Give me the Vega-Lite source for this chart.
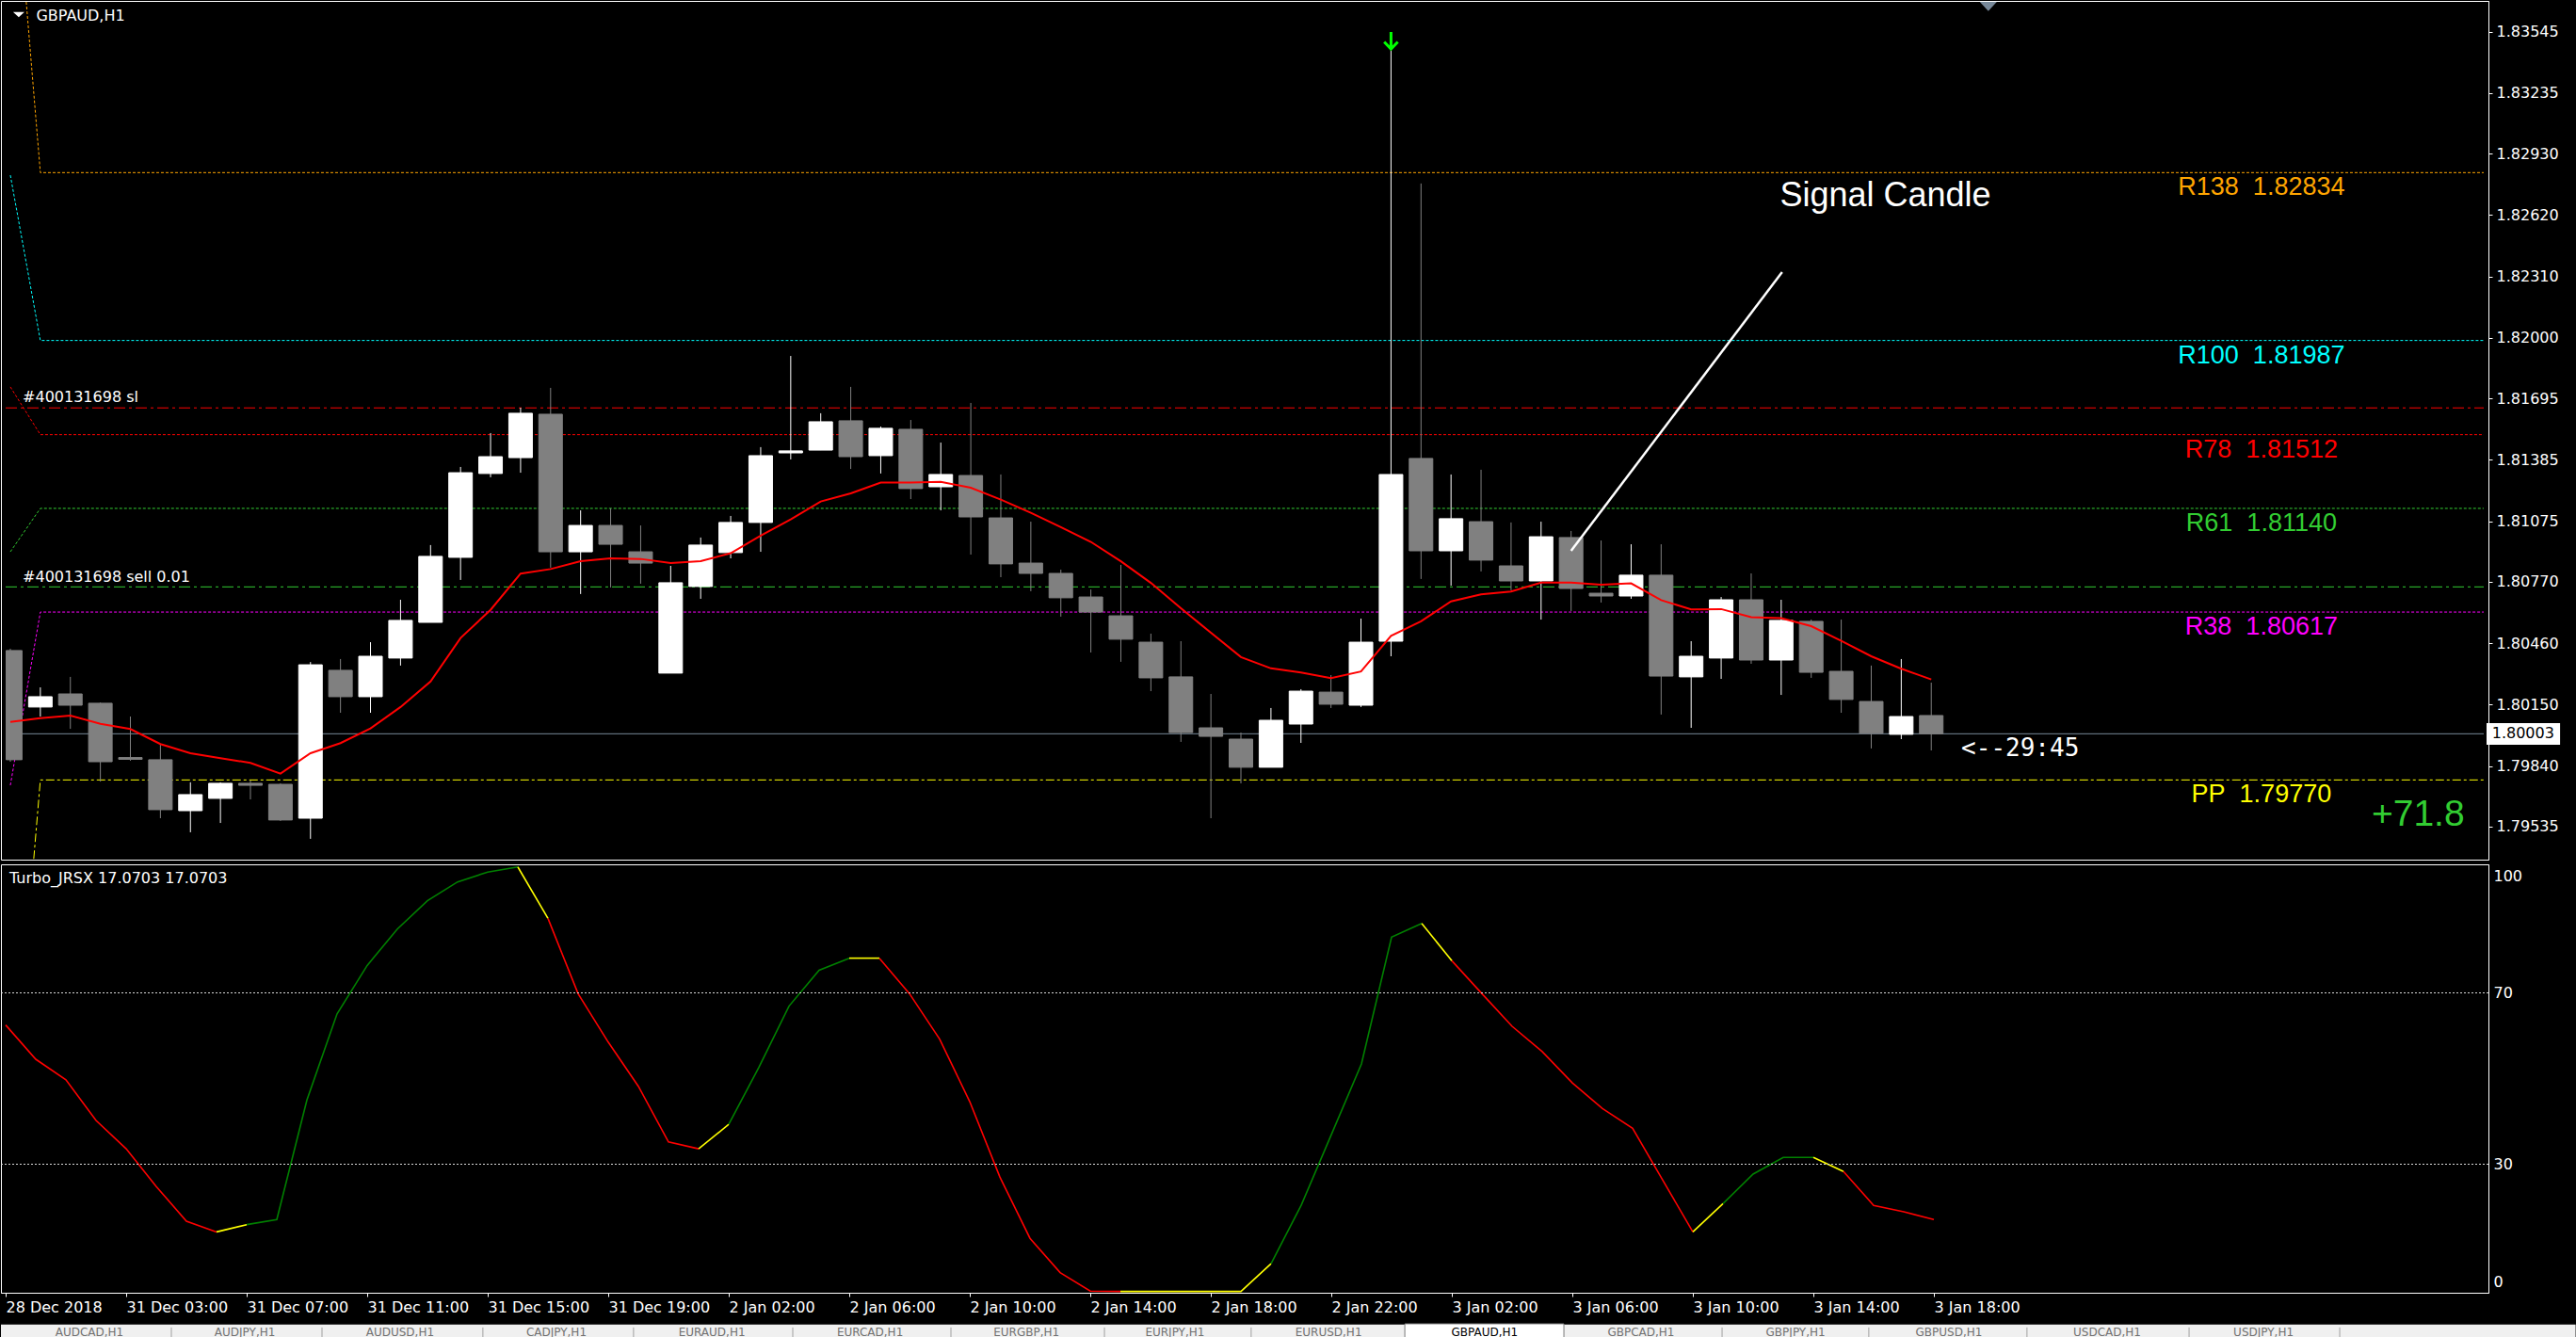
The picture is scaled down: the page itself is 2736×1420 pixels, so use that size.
{
  "$schema": "https://vega.github.io/schema/vega-lite/v6.json",
  "background": "black",
  "padding": 0,
  "spacing": 3,
  "config": {
    "view": {"stroke": "white", "strokeWidth": 1},
    "axis": {"grid": false, "labelColor": "white", "domainColor": "white", "tickColor": "white", "labelFont": "DejaVu Sans", "labelFontSize": 16}
  },
  "datasets": {
    "candles": [
      {"i":0,"o":1.80423,"h":1.80432,"l":1.79862,"c":1.79872,"d":"dn"},
      {"i":1,"o":1.80138,"h":1.80237,"l":1.8009,"c":1.8019,"d":"up"},
      {"i":2,"o":1.80204,"h":1.8029,"l":1.80028,"c":1.80147,"d":"dn"},
      {"i":3,"o":1.80157,"h":1.80161,"l":1.79762,"c":1.79862,"d":"dn"},
      {"i":4,"o":1.79883,"h":1.8009,"l":1.79867,"c":1.79874,"d":"dn"},
      {"i":5,"o":1.79872,"h":1.79948,"l":1.79577,"c":1.7962,"d":"dn"},
      {"i":6,"o":1.79615,"h":1.79758,"l":1.79506,"c":1.79696,"d":"up"},
      {"i":7,"o":1.79677,"h":1.79758,"l":1.79553,"c":1.79753,"d":"up"},
      {"i":8,"o":1.79753,"h":1.79767,"l":1.79672,"c":1.79743,"d":"dn"},
      {"i":9,"o":1.79748,"h":1.79753,"l":1.79563,"c":1.79568,"d":"dn"},
      {"i":10,"o":1.79577,"h":1.80365,"l":1.79473,"c":1.80351,"d":"up"},
      {"i":11,"o":1.80323,"h":1.8038,"l":1.80109,"c":1.8019,"d":"dn"},
      {"i":12,"o":1.8019,"h":1.80465,"l":1.80109,"c":1.80394,"d":"up"},
      {"i":13,"o":1.80385,"h":1.80679,"l":1.80347,"c":1.80575,"d":"up"},
      {"i":14,"o":1.80565,"h":1.80955,"l":1.80565,"c":1.80898,"d":"up"},
      {"i":15,"o":1.80893,"h":1.81349,"l":1.80779,"c":1.8132,"d":"up"},
      {"i":16,"o":1.81316,"h":1.8152,"l":1.81297,"c":1.81401,"d":"up"},
      {"i":17,"o":1.81396,"h":1.81648,"l":1.8132,"c":1.8162,"d":"up"},
      {"i":18,"o":1.81615,"h":1.81748,"l":1.80841,"c":1.80921,"d":"dn"},
      {"i":19,"o":1.80921,"h":1.8113,"l":1.80708,"c":1.81054,"d":"up"},
      {"i":20,"o":1.81054,"h":1.8114,"l":1.80741,"c":1.80959,"d":"dn"},
      {"i":21,"o":1.80921,"h":1.81054,"l":1.8076,"c":1.80864,"d":"dn"},
      {"i":22,"o":1.80309,"h":1.8085,"l":1.80309,"c":1.80765,"d":"up"},
      {"i":23,"o":1.80746,"h":1.80993,"l":1.80684,"c":1.80955,"d":"up"},
      {"i":24,"o":1.80917,"h":1.81102,"l":1.80888,"c":1.81069,"d":"up"},
      {"i":25,"o":1.81069,"h":1.81449,"l":1.80921,"c":1.81406,"d":"up"},
      {"i":26,"o":1.8142,"h":1.81909,"l":1.81387,"c":1.8143,"d":"up"},
      {"i":27,"o":1.81434,"h":1.8162,"l":1.81434,"c":1.81577,"d":"up"},
      {"i":28,"o":1.81582,"h":1.81753,"l":1.81339,"c":1.81401,"d":"dn"},
      {"i":29,"o":1.81406,"h":1.81553,"l":1.81316,"c":1.81544,"d":"up"},
      {"i":30,"o":1.81539,"h":1.81586,"l":1.81187,"c":1.8124,"d":"dn"},
      {"i":31,"o":1.81249,"h":1.81472,"l":1.8113,"c":1.81311,"d":"up"},
      {"i":32,"o":1.81306,"h":1.81672,"l":1.80907,"c":1.81097,"d":"dn"},
      {"i":33,"o":1.81092,"h":1.81311,"l":1.80793,"c":1.8086,"d":"dn"},
      {"i":34,"o":1.80864,"h":1.81073,"l":1.80722,"c":1.80812,"d":"dn"},
      {"i":35,"o":1.80812,"h":1.80831,"l":1.80594,"c":1.80689,"d":"dn"},
      {"i":36,"o":1.80693,"h":1.80731,"l":1.80413,"c":1.80617,"d":"dn"},
      {"i":37,"o":1.80598,"h":1.80855,"l":1.80366,"c":1.8048,"d":"dn"},
      {"i":38,"o":1.80465,"h":1.80508,"l":1.80218,"c":1.80285,"d":"dn"},
      {"i":39,"o":1.8029,"h":1.8047,"l":1.79962,"c":1.80009,"d":"dn"},
      {"i":40,"o":1.80033,"h":1.80204,"l":1.79577,"c":1.7999,"d":"dn"},
      {"i":41,"o":1.79976,"h":1.80009,"l":1.79753,"c":1.79834,"d":"dn"},
      {"i":42,"o":1.79834,"h":1.80133,"l":1.79834,"c":1.80071,"d":"up"},
      {"i":43,"o":1.80052,"h":1.80228,"l":1.79957,"c":1.80218,"d":"up"},
      {"i":44,"o":1.80213,"h":1.80299,"l":1.80133,"c":1.80152,"d":"dn"},
      {"i":45,"o":1.80147,"h":1.80584,"l":1.80138,"c":1.80465,"d":"up"},
      {"i":46,"o":1.8047,"h":1.83453,"l":1.80394,"c":1.81311,"d":"up"},
      {"i":47,"o":1.81392,"h":1.82779,"l":1.80784,"c":1.80926,"d":"dn"},
      {"i":48,"o":1.80926,"h":1.81311,"l":1.8075,"c":1.81088,"d":"up"},
      {"i":49,"o":1.81073,"h":1.81335,"l":1.80822,"c":1.80879,"d":"dn"},
      {"i":50,"o":1.8085,"h":1.81069,"l":1.80727,"c":1.80774,"d":"dn"},
      {"i":51,"o":1.80774,"h":1.81073,"l":1.80579,"c":1.80997,"d":"up"},
      {"i":52,"o":1.80993,"h":1.81026,"l":1.80622,"c":1.80736,"d":"dn"},
      {"i":53,"o":1.80712,"h":1.80978,"l":1.80665,"c":1.80698,"d":"dn"},
      {"i":54,"o":1.80698,"h":1.80959,"l":1.80684,"c":1.80803,"d":"up"},
      {"i":55,"o":1.80803,"h":1.80959,"l":1.801,"c":1.80294,"d":"dn"},
      {"i":56,"o":1.8029,"h":1.8047,"l":1.80033,"c":1.80394,"d":"up"},
      {"i":57,"o":1.80385,"h":1.80693,"l":1.8028,"c":1.80679,"d":"up"},
      {"i":58,"o":1.80679,"h":1.80812,"l":1.80356,"c":1.80375,"d":"dn"},
      {"i":59,"o":1.80375,"h":1.80679,"l":1.80199,"c":1.80575,"d":"up"},
      {"i":60,"o":1.8057,"h":1.80579,"l":1.80285,"c":1.80313,"d":"dn"},
      {"i":61,"o":1.80318,"h":1.80579,"l":1.80109,"c":1.80176,"d":"dn"},
      {"i":62,"o":1.80166,"h":1.80347,"l":1.79929,"c":1.80005,"d":"dn"},
      {"i":63,"o":1.8,"h":1.8038,"l":1.79976,"c":1.8009,"d":"up"},
      {"i":64,"o":1.80095,"h":1.80261,"l":1.79919,"c":1.80003,"d":"dn"}
    ],
    "ma": [
      {"i":0,"m":1.80063},{"i":1,"m":1.80082},{"i":2,"m":1.80095},{"i":3,"m":1.80053},{"i":4,"m":1.80027},
      {"i":5,"m":1.79951},{"i":6,"m":1.79905},{"i":7,"m":1.7988},{"i":8,"m":1.79856},{"i":9,"m":1.79802},
      {"i":10,"m":1.79905},{"i":11,"m":1.79956},{"i":12,"m":1.8003},{"i":13,"m":1.80138},{"i":14,"m":1.80267},
      {"i":15,"m":1.80486},{"i":16,"m":1.80628},{"i":17,"m":1.80811},{"i":18,"m":1.80834},{"i":19,"m":1.80874},
      {"i":20,"m":1.80888},{"i":21,"m":1.80885},{"i":22,"m":1.80864},{"i":23,"m":1.80874},{"i":24,"m":1.80914},
      {"i":25,"m":1.81003},{"i":26,"m":1.81085},{"i":27,"m":1.81175},{"i":28,"m":1.81216},{"i":29,"m":1.8127},
      {"i":30,"m":1.8127},{"i":31,"m":1.81274},{"i":32,"m":1.81244},{"i":33,"m":1.81184},{"i":34,"m":1.81118},
      {"i":35,"m":1.81045},{"i":36,"m":1.80971},{"i":37,"m":1.80873},{"i":38,"m":1.80764},{"i":39,"m":1.80636},
      {"i":40,"m":1.80513},{"i":41,"m":1.8039},{"i":42,"m":1.80333},{"i":43,"m":1.80312},{"i":44,"m":1.80284},
      {"i":45,"m":1.80317},{"i":46,"m":1.80497},{"i":47,"m":1.8057},{"i":48,"m":1.80671},{"i":49,"m":1.80706},
      {"i":50,"m":1.80721},{"i":51,"m":1.80766},{"i":52,"m":1.80766},{"i":53,"m":1.80755},{"i":54,"m":1.80762},
      {"i":55,"m":1.80677},{"i":56,"m":1.8063},{"i":57,"m":1.80632},{"i":58,"m":1.80591},{"i":59,"m":1.80586},
      {"i":60,"m":1.80546},{"i":61,"m":1.80472},{"i":62,"m":1.80394},{"i":63,"m":1.80331},{"i":64,"m":1.80277}
    ],
    "levels": [
      {"name":"R138","i":0.53,"p":1.83695},{"name":"R138","i":1,"p":1.82834},{"name":"R138","i":82.40625,"p":1.82834},
      {"name":"R100","i":0,"p":1.82821},{"name":"R100","i":1,"p":1.81987},{"name":"R100","i":82.40625,"p":1.81987},
      {"name":"R78","i":0,"p":1.81753},{"name":"R78","i":1,"p":1.81512},{"name":"R78","i":82.40625,"p":1.81512},
      {"name":"R61","i":0,"p":1.80921},{"name":"R61","i":1,"p":1.8114},{"name":"R61","i":82.40625,"p":1.8114},
      {"name":"R38","i":0,"p":1.79743},{"name":"R38","i":1,"p":1.80617},{"name":"R38","i":82.40625,"p":1.80617},
      {"name":"PP","i":0.78,"p":1.79372},{"name":"PP","i":1,"p":1.7977},{"name":"PP","i":82.40625,"p":1.7977},
      {"name":"sl","i":-0.15625,"p":1.81647},{"name":"sl","i":82.40625,"p":1.81647},
      {"name":"sell","i":-0.15625,"p":1.80744},{"name":"sell","i":82.40625,"p":1.80744},
      {"name":"bid","i":-0.15625,"p":1.80003},{"name":"bid","i":82.40625,"p":1.80003}
    ],
    "lvlabels": [
      {"name":"R138","t":"R138\u00a0 1.82834","p":1.82834},
      {"name":"R100","t":"R100\u00a0 1.81987","p":1.81987},
      {"name":"R78","t":"R78\u00a0 1.81512","p":1.81512},
      {"name":"R61","t":"R61\u00a0 1.81140","p":1.8114},
      {"name":"R38","t":"R38\u00a0 1.80617","p":1.80617},
      {"name":"PP","t":"PP\u00a0 1.79770","p":1.7977}
    ],
    "jrsx": [
      {"seg":1,"c":"r","i":0,"v":62.5},{"seg":1,"c":"r","i":1,"v":54.5},{"seg":1,"c":"r","i":2,"v":49.7},{"seg":1,"c":"r","i":3,"v":40.2},{"seg":1,"c":"r","i":4,"v":33.6},{"seg":1,"c":"r","i":5,"v":24.8},{"seg":1,"c":"r","i":6,"v":16.7},{"seg":1,"c":"r","i":7,"v":14.2},
      {"seg":2,"c":"y","i":7,"v":14.2},{"seg":2,"c":"y","i":8,"v":15.9},
      {"seg":3,"c":"g","i":8,"v":15.9},{"seg":3,"c":"g","i":9,"v":17.1},{"seg":3,"c":"g","i":10,"v":45},{"seg":3,"c":"g","i":11,"v":65.1},{"seg":3,"c":"g","i":12,"v":76.4},{"seg":3,"c":"g","i":13,"v":84.9},{"seg":3,"c":"g","i":14,"v":91.5},{"seg":3,"c":"g","i":15,"v":95.9},{"seg":3,"c":"g","i":16,"v":98.2},{"seg":3,"c":"g","i":17,"v":99.4},
      {"seg":4,"c":"y","i":17,"v":99.4},{"seg":4,"c":"y","i":18,"v":87.4},
      {"seg":5,"c":"r","i":18,"v":87.4},{"seg":5,"c":"r","i":19,"v":69.8},{"seg":5,"c":"r","i":20,"v":58.5},{"seg":5,"c":"r","i":21,"v":48.2},{"seg":5,"c":"r","i":22,"v":35.2},{"seg":5,"c":"r","i":23,"v":33.6},
      {"seg":6,"c":"y","i":23,"v":33.6},{"seg":6,"c":"y","i":24,"v":39.3},
      {"seg":7,"c":"g","i":24,"v":39.3},{"seg":7,"c":"g","i":25,"v":52.6},{"seg":7,"c":"g","i":26,"v":66.9},{"seg":7,"c":"g","i":27,"v":75.3},{"seg":7,"c":"g","i":28,"v":78.1},
      {"seg":8,"c":"y","i":28,"v":78.1},{"seg":8,"c":"y","i":29,"v":78.1},
      {"seg":9,"c":"r","i":29,"v":78.1},{"seg":9,"c":"r","i":30,"v":69.8},{"seg":9,"c":"r","i":31,"v":59.2},{"seg":9,"c":"r","i":32,"v":44.6},{"seg":9,"c":"r","i":33,"v":27.0},{"seg":9,"c":"r","i":34,"v":12.7},{"seg":9,"c":"r","i":35,"v":4.7},{"seg":9,"c":"r","i":36,"v":0.4},{"seg":9,"c":"r","i":37,"v":0.3},
      {"seg":10,"c":"y","i":37,"v":0.3},{"seg":10,"c":"y","i":38,"v":0.3},{"seg":10,"c":"y","i":39,"v":0.3},{"seg":10,"c":"y","i":40,"v":0.3},{"seg":10,"c":"y","i":41,"v":0.3},{"seg":10,"c":"y","i":42,"v":6.8},
      {"seg":11,"c":"g","i":42,"v":6.8},{"seg":11,"c":"g","i":43,"v":20.4},{"seg":11,"c":"g","i":44,"v":36.9},{"seg":11,"c":"g","i":45,"v":53.4},{"seg":11,"c":"g","i":46,"v":83.0},{"seg":11,"c":"g","i":47,"v":86.2},
      {"seg":12,"c":"y","i":47,"v":86.2},{"seg":12,"c":"y","i":48,"v":77.5},
      {"seg":13,"c":"r","i":48,"v":77.5},{"seg":13,"c":"r","i":49,"v":69.8},{"seg":13,"c":"r","i":50,"v":62.2},{"seg":13,"c":"r","i":51,"v":56.3},{"seg":13,"c":"r","i":52,"v":49.0},{"seg":13,"c":"r","i":53,"v":43.0},{"seg":13,"c":"r","i":54,"v":38.4},{"seg":13,"c":"r","i":55,"v":26.3},{"seg":13,"c":"r","i":56,"v":14.2},
      {"seg":14,"c":"y","i":56,"v":14.2},{"seg":14,"c":"y","i":57,"v":20.8},
      {"seg":15,"c":"g","i":57,"v":20.8},{"seg":15,"c":"g","i":58,"v":27.7},{"seg":15,"c":"g","i":59,"v":31.6},{"seg":15,"c":"g","i":60,"v":31.6},
      {"seg":16,"c":"y","i":60,"v":31.6},{"seg":16,"c":"y","i":61,"v":28.3},
      {"seg":17,"c":"r","i":61,"v":28.3},{"seg":17,"c":"r","i":62,"v":20.4},{"seg":17,"c":"r","i":63,"v":18.9},{"seg":17,"c":"r","i":64,"v":17.07}
    ],
    "tabs": [
      {"t":"AUDCAD,H1","i":2.78},{"t":"AUDJPY,H1","i":7.94},{"t":"AUDUSD,H1","i":13.09},{"t":"CADJPY,H1","i":18.28},
      {"t":"EURAUD,H1","i":23.44},{"t":"EURCAD,H1","i":28.69},{"t":"EURGBP,H1","i":33.88},{"t":"EURJPY,H1","i":38.81},
      {"t":"EURUSD,H1","i":43.91},{"t":"GBPCAD,H1","i":54.28},{"t":"GBPJPY,H1","i":59.41},
      {"t":"GBPUSD,H1","i":64.5},{"t":"USDCAD,H1","i":69.75},{"t":"USDJPY,H1","i":74.94}
    ],
    "seps": [
      {"i":5.5},{"i":10.5},{"i":15.84},{"i":20.84},{"i":26.125},{"i":31.375},{"i":36.47},{"i":41.34},
      {"i":56.97},{"i":61.84},{"i":67.09},{"i":72.47},{"i":77.47}
    ]
  },
  "vconcat": [
    {
      "width": 2642,
      "height": 912,
      "resolve": {"scale": {"color": "independent", "strokeDash": "independent", "stroke": "independent"}},
      "layer": [
        {
          "data": {"name": "levels"},
          "mark": {"type": "line", "strokeWidth": 1, "clip": true},
          "encoding": {
            "x": {"field": "i", "type": "quantitative", "scale": {"domain": [-0.15625, 82.40625], "nice": false, "zero": false}, "axis": null},
            "y": {"field": "p", "type": "quantitative", "scale": {"domain": [1.79368, 1.837], "nice": false, "zero": false},
                  "axis": {"orient": "right", "title": null, "values": [1.83545, 1.83235, 1.8293, 1.8262, 1.8231, 1.82, 1.81695, 1.81385, 1.81075, 1.8077, 1.8046, 1.8015, 1.7984, 1.79535], "format": ".5f", "tickSize": 4, "labelPadding": 4, "grid": false, "labelFlush": false, "labelOverlap": false}},
            "color": {"field": "name", "type": "nominal", "legend": null,
                      "scale": {"domain": ["R138","R100","R78","R61","R38","PP","sl","sell","bid"], "range": ["#FFA500","#00FFFF","#FF0000","#32CD32","#FF00FF","#FFFF00","#FF0000","#32CD32","#778899"]}},
            "strokeDash": {"field": "name", "type": "nominal", "legend": null,
                      "scale": {"domain": ["R138","R100","R78","R61","R38","PP","sl","sell","bid"], "range": [[3,2],[3,2],[3,2],[3,2],[3,2],[9,3,3,3],[12,4,3,4],[12,4,3,4],[10,0]]}}
          }
        },
        {
          "data": {"name": "candles"},
          "mark": {"type": "rule", "strokeWidth": 1, "clip": true},
          "encoding": {
            "x": {"field": "i", "type": "quantitative", "scale": {"domain": [-0.15625, 82.40625], "nice": false, "zero": false}, "axis": null},
            "y": {"field": "l", "type": "quantitative", "scale": {"domain": [1.79368, 1.837], "nice": false, "zero": false}, "title": null},
            "y2": {"field": "h"},
            "color": {"field": "d", "type": "nominal", "legend": null, "scale": {"domain": ["up","dn"], "range": ["#FFFFFF","#808080"]}}
          }
        },
        {
          "data": {"name": "candles"},
          "transform": [{"filter": "datum.i > 0"}],
          "mark": {"type": "bar", "size": 25, "strokeWidth": 1, "clip": true},
          "encoding": {
            "x": {"field": "i", "type": "quantitative", "scale": {"domain": [-0.15625, 82.40625], "nice": false, "zero": false}, "axis": null},
            "y": {"field": "o", "type": "quantitative", "scale": {"domain": [1.79368, 1.837], "nice": false, "zero": false}, "title": null},
            "y2": {"field": "c"},
            "color": {"field": "d", "type": "nominal", "legend": null, "scale": {"domain": ["up","dn"], "range": ["#FFFFFF","#808080"]}},
            "stroke": {"field": "d", "type": "nominal", "legend": null, "scale": {"domain": ["up","dn"], "range": ["#FFFFFF","#808080"]}}
          }
        },
        {
          "data": {"name": "candles"},
          "transform": [{"filter": "datum.i == 0"}],
          "mark": {"type": "rect", "strokeWidth": 1, "clip": true},
          "encoding": {
            "x": {"datum": -0.14, "type": "quantitative", "scale": {"domain": [-0.15625, 82.40625], "nice": false, "zero": false}, "axis": null},
            "x2": {"datum": 0.39},
            "y": {"field": "o", "type": "quantitative", "scale": {"domain": [1.79368, 1.837], "nice": false, "zero": false}, "title": null},
            "y2": {"field": "c"},
            "color": {"field": "d", "type": "nominal", "legend": null, "scale": {"domain": ["up","dn"], "range": ["#FFFFFF","#808080"]}},
            "stroke": {"field": "d", "type": "nominal", "legend": null, "scale": {"domain": ["up","dn"], "range": ["#FFFFFF","#808080"]}}
          }
        },
        {
          "data": {"name": "ma"},
          "mark": {"type": "line", "color": "#FF0000", "strokeWidth": 2, "clip": true},
          "encoding": {
            "x": {"field": "i", "type": "quantitative", "scale": {"domain": [-0.15625, 82.40625], "nice": false, "zero": false}, "axis": null},
            "y": {"field": "m", "type": "quantitative", "scale": {"domain": [1.79368, 1.837], "nice": false, "zero": false}, "title": null}
          }
        },
        {
          "data": {"values": [{"i": 52.0, "p": 1.80926}, {"i": 59.03, "p": 1.82332}]},
          "mark": {"type": "line", "color": "#FFFFFF", "strokeWidth": 2.5},
          "encoding": {
            "x": {"field": "i", "type": "quantitative", "scale": {"domain": [-0.15625, 82.40625], "nice": false, "zero": false}, "axis": null},
            "y": {"field": "p", "type": "quantitative", "scale": {"domain": [1.79368, 1.837], "nice": false, "zero": false}, "title": null}
          }
        },
        {
          "data": {"name": "lvlabels"},
          "mark": {"type": "text", "font": "Liberation Sans", "fontSize": 27, "align": "center", "baseline": "middle", "dy": 16},
          "encoding": {
            "x": {"datum": 75, "type": "quantitative", "scale": {"domain": [-0.15625, 82.40625], "nice": false, "zero": false}, "axis": null},
            "y": {"field": "p", "type": "quantitative", "scale": {"domain": [1.79368, 1.837], "nice": false, "zero": false}, "title": null},
            "text": {"field": "t"},
            "color": {"field": "name", "type": "nominal", "legend": null,
                      "scale": {"domain": ["R138","R100","R78","R61","R38","PP"], "range": ["#FFA500","#00FFFF","#FF0000","#32CD32","#FF00FF","#FFFF00"]}}
          }
        },
        {
          "data": {"values": [
            {"t": "GBPAUD,H1", "i": 0.86, "p": 1.83624},
            {"t": "#400131698 sl", "i": 0.41, "p": 1.817},
            {"t": "#400131698 sell 0.01", "i": 0.41, "p": 1.80793}
          ]},
          "mark": {"type": "text", "font": "DejaVu Sans", "fontSize": 16, "align": "left", "baseline": "middle", "color": "#FFFFFF"},
          "encoding": {
            "x": {"field": "i", "type": "quantitative", "scale": {"domain": [-0.15625, 82.40625], "nice": false, "zero": false}, "axis": null},
            "y": {"field": "p", "type": "quantitative", "scale": {"domain": [1.79368, 1.837], "nice": false, "zero": false}, "title": null},
            "text": {"field": "t"}
          }
        },
        {
          "data": {"values": [{"t": "Signal Candle", "i": 62.47, "p": 1.82717}]},
          "mark": {"type": "text", "font": "Liberation Sans", "fontSize": 36, "align": "center", "baseline": "middle", "color": "#FFFFFF"},
          "encoding": {
            "x": {"field": "i", "type": "quantitative", "scale": {"domain": [-0.15625, 82.40625], "nice": false, "zero": false}, "axis": null},
            "y": {"field": "p", "type": "quantitative", "scale": {"domain": [1.79368, 1.837], "nice": false, "zero": false}, "title": null},
            "text": {"field": "t"}
          }
        },
        {
          "data": {"values": [{"t": "<--29:45", "i": 65.0, "p": 1.79929}]},
          "mark": {"type": "text", "font": "DejaVu Sans Mono", "fontSize": 26, "align": "left", "baseline": "middle", "color": "#FFFFFF"},
          "encoding": {
            "x": {"field": "i", "type": "quantitative", "scale": {"domain": [-0.15625, 82.40625], "nice": false, "zero": false}, "axis": null},
            "y": {"field": "p", "type": "quantitative", "scale": {"domain": [1.79368, 1.837], "nice": false, "zero": false}, "title": null},
            "text": {"field": "t"}
          }
        },
        {
          "data": {"values": [{"t": "+71.8", "i": 80.22, "p": 1.79596}]},
          "mark": {"type": "text", "font": "Liberation Sans", "fontSize": 39, "align": "center", "baseline": "middle", "color": "#32CD32"},
          "encoding": {
            "x": {"field": "i", "type": "quantitative", "scale": {"domain": [-0.15625, 82.40625], "nice": false, "zero": false}, "axis": null},
            "y": {"field": "p", "type": "quantitative", "scale": {"domain": [1.79368, 1.837], "nice": false, "zero": false}, "title": null},
            "text": {"field": "t"}
          }
        },
        {
          "data": {"values": [{"i": 46, "p": 1.835}]},
          "mark": {"type": "point", "shape": "M0,-1 L0,0.95 M-0.8,0.15 L0,1 L0.8,0.15", "filled": false, "stroke": "#00FF00", "strokeWidth": 3, "size": 324, "opacity": 1},
          "encoding": {
            "x": {"field": "i", "type": "quantitative", "scale": {"domain": [-0.15625, 82.40625], "nice": false, "zero": false}, "axis": null},
            "y": {"field": "p", "type": "quantitative", "scale": {"domain": [1.79368, 1.837], "nice": false, "zero": false}, "title": null}
          }
        },
        {
          "data": {"values": [{"i": 0.28, "p": 1.83631}]},
          "mark": {"type": "point", "shape": "M-1,-0.45 L1,-0.45 L0,0.45 Z", "filled": true, "color": "#FFFFFF", "size": 144, "opacity": 1},
          "encoding": {
            "x": {"field": "i", "type": "quantitative", "scale": {"domain": [-0.15625, 82.40625], "nice": false, "zero": false}, "axis": null},
            "y": {"field": "p", "type": "quantitative", "scale": {"domain": [1.79368, 1.837], "nice": false, "zero": false}, "title": null}
          }
        },
        {
          "data": {"values": [{"i": 65.9, "p": 1.83672}]},
          "mark": {"type": "point", "shape": "M-1,-0.55 L1,-0.55 L0,0.55 Z", "filled": true, "color": "#778899", "size": 324, "opacity": 1},
          "encoding": {
            "x": {"field": "i", "type": "quantitative", "scale": {"domain": [-0.15625, 82.40625], "nice": false, "zero": false}, "axis": null},
            "y": {"field": "p", "type": "quantitative", "scale": {"domain": [1.79368, 1.837], "nice": false, "zero": false}, "title": null}
          }
        },
        {
          "data": {"values": [{"t": "1.80003", "p": 1.80003}]},
          "mark": {"type": "rect", "color": "#FFFFFF"},
          "encoding": {
            "x": {"datum": 82.5, "type": "quantitative", "scale": {"domain": [-0.15625, 82.40625], "nice": false, "zero": false}, "axis": null},
            "x2": {"datum": 84.95},
            "y": {"datum": 1.80057, "type": "quantitative", "scale": {"domain": [1.79368, 1.837], "nice": false, "zero": false}},
            "y2": {"datum": 1.79948}
          }
        },
        {
          "data": {"values": [{"t": "1.80003", "p": 1.80003}]},
          "mark": {"type": "text", "font": "DejaVu Sans", "fontSize": 16, "align": "left", "baseline": "middle", "color": "#000000"},
          "encoding": {
            "x": {"datum": 82.68, "type": "quantitative", "scale": {"domain": [-0.15625, 82.40625], "nice": false, "zero": false}, "axis": null},
            "y": {"field": "p", "type": "quantitative", "scale": {"domain": [1.79368, 1.837], "nice": false, "zero": false}, "title": null},
            "text": {"field": "t"}
          }
        }
      ]
    },
    {
      "width": 2642,
      "height": 455,
      "resolve": {"scale": {"color": "independent"}},
      "layer": [
        {
          "data": {"name": "jrsx"},
          "mark": {"type": "line", "strokeWidth": 1.6},
          "encoding": {
            "x": {"field": "i", "type": "quantitative", "scale": {"domain": [-0.15625, 82.40625], "nice": false, "zero": false},
                  "axis": {"orient": "bottom", "title": null, "values": [0,4,8,12,16,20,24,28,32,36,40,44,48,52,56,60,64],
                           "labelExpr": "['28 Dec 2018','31 Dec 03:00','31 Dec 07:00','31 Dec 11:00','31 Dec 15:00','31 Dec 19:00','2 Jan 02:00','2 Jan 06:00','2 Jan 10:00','2 Jan 14:00','2 Jan 18:00','2 Jan 22:00','3 Jan 02:00','3 Jan 06:00','3 Jan 10:00','3 Jan 14:00','3 Jan 18:00'][round(datum.value/4)]",
                           "labelAlign": "left", "labelBaseline": "top", "tickSize": 4, "labelPadding": 3, "labelFlush": false, "labelOverlap": false, "labelBound": false, "grid": false}},
            "y": {"field": "v", "type": "quantitative", "scale": {"domain": [0, 100], "nice": false, "zero": false},
                  "axis": {"orient": "right", "title": null, "values": [0, 30, 70, 100], "ticks": false, "labelPadding": 5, "labelFlush": true, "labelFlushOffset": -4, "labelOverlap": false, "grid": false}},
            "color": {"field": "c", "type": "nominal", "legend": null, "scale": {"domain": ["r","y","g"], "range": ["#FF0000","#FFFF00","#008000"]}},
            "detail": {"field": "seg", "type": "nominal"}
          }
        },
        {
          "data": {"values": [{"lv": 70}, {"lv": 30}]},
          "mark": {"type": "rule", "color": "#D8D8D8", "strokeDash": [2, 2], "strokeWidth": 1},
          "encoding": {
            "y": {"field": "lv", "type": "quantitative", "scale": {"domain": [0, 100], "nice": false, "zero": false}, "title": null}
          }
        },
        {
          "data": {"values": [{"t": "Turbo_JRSX 17.0703 17.0703", "i": 0.125, "v": 96.7}]},
          "mark": {"type": "text", "font": "DejaVu Sans", "fontSize": 16, "align": "left", "baseline": "middle", "color": "#FFFFFF"},
          "encoding": {
            "x": {"field": "i", "type": "quantitative", "scale": {"domain": [-0.15625, 82.40625], "nice": false, "zero": false}, "title": null},
            "y": {"field": "v", "type": "quantitative", "scale": {"domain": [0, 100], "nice": false, "zero": false}, "title": null},
            "text": {"field": "t"}
          }
        },
        {
          "data": {"values": [{"bar": "tabs"}]},
          "mark": {"type": "rect", "color": "#F0F0F0"},
          "encoding": {
            "x": {"datum": -0.15625, "type": "quantitative", "scale": {"domain": [-0.15625, 82.40625], "nice": false, "zero": false}},
            "x2": {"datum": 85.3},
            "y": {"datum": -7.4, "type": "quantitative", "scale": {"domain": [0, 100], "nice": false, "zero": false}},
            "y2": {"datum": -11}
          }
        },
        {
          "data": {"name": "seps"},
          "mark": {"type": "rule", "color": "#A0A0A0", "strokeWidth": 1},
          "encoding": {
            "x": {"field": "i", "type": "quantitative", "scale": {"domain": [-0.15625, 82.40625], "nice": false, "zero": false}, "title": null},
            "y": {"datum": -8.1, "type": "quantitative", "scale": {"domain": [0, 100], "nice": false, "zero": false}},
            "y2": {"datum": -11}
          }
        },
        {
          "data": {"values": [{"bar": "active"}]},
          "mark": {"type": "rect", "color": "#FFFFFF", "stroke": "#7A7A7A", "strokeWidth": 1},
          "encoding": {
            "x": {"datum": 46.44, "type": "quantitative", "scale": {"domain": [-0.15625, 82.40625], "nice": false, "zero": false}},
            "x2": {"datum": 51.72},
            "y": {"datum": -7.25, "type": "quantitative", "scale": {"domain": [0, 100], "nice": false, "zero": false}},
            "y2": {"datum": -11}
          }
        },
        {
          "data": {"name": "tabs"},
          "mark": {"type": "text", "font": "DejaVu Sans", "fontSize": 12, "align": "center", "baseline": "middle", "color": "#707070"},
          "encoding": {
            "x": {"field": "i", "type": "quantitative", "scale": {"domain": [-0.15625, 82.40625], "nice": false, "zero": false}, "title": null},
            "y": {"datum": -9.3, "type": "quantitative", "scale": {"domain": [0, 100], "nice": false, "zero": false}},
            "text": {"field": "t"}
          }
        },
        {
          "data": {"values": [{"t": "GBPAUD,H1", "i": 49.09}]},
          "mark": {"type": "text", "font": "DejaVu Sans", "fontSize": 12, "align": "center", "baseline": "middle", "color": "#000000"},
          "encoding": {
            "x": {"field": "i", "type": "quantitative", "scale": {"domain": [-0.15625, 82.40625], "nice": false, "zero": false}, "title": null},
            "y": {"datum": -9.3, "type": "quantitative", "scale": {"domain": [0, 100], "nice": false, "zero": false}},
            "text": {"field": "t"}
          }
        }
      ]
    }
  ]
}
